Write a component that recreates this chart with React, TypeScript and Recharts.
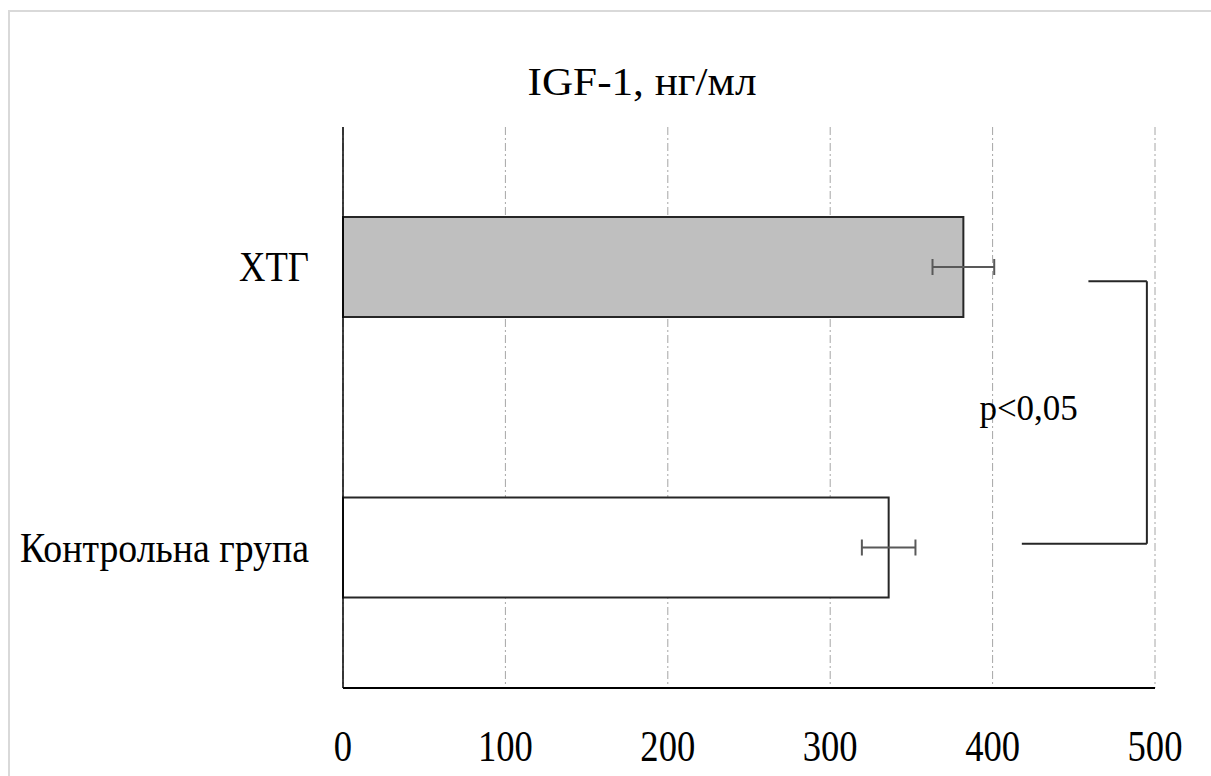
import React from 'react';
import { BarChart, Bar, XAxis, YAxis, CartesianGrid, ErrorBar, Cell, ReferenceLine } from 'recharts';

// IGF-1 levels, ng/ml: mean and error per group
const categories = ['ХТГ', 'Контрольна група'];
const means = [382, 336];
const errors = [19, 16.5];
const xTicks = [0, 100, 200, 300, 400, 500];

const FILLS = ['#bfbfbf', '#ffffff'];
const FONT = '"Liberation Serif", "Times New Roman", serif';

const data = categories.map((name, i) => ({ name, value: means[i], err: errors[i] }));

// narrow, tall serif labels
const Y_LABEL_WIDTH: Record<string, number> = { 'ХТГ': 70, 'Контрольна група': 289 };

const XTick = (props: any) => {
  const { x, y, payload } = props;
  const label = String(payload.value);
  return (
    <text x={x} y={y + 73} textAnchor="middle" fontFamily={FONT} fontSize={44} fill="#000"
      textLength={label.length * 18.3} lengthAdjust="spacingAndGlyphs">
      {label}
    </text>
  );
};

const YTick = (props: any) => {
  const { x, y, payload } = props;
  const label = String(payload.value);
  return (
    <text x={x} y={y + 14} textAnchor="end" fontFamily={FONT} fontSize={42} fill="#000"
      textLength={Y_LABEL_WIDTH[label]} lengthAdjust="spacingAndGlyphs">
      {label}
    </text>
  );
};

// bracket pieces, nudged off the category centres
const shifted = (dy1: number, dy2: number) => (p: any) => (
  <line x1={p.x1} y1={p.y1 + dy1} x2={p.x2} y2={p.y2 + dy2} stroke="#262626" strokeWidth={2} />
);

export default function App() {
  return (
    <div style={{ position: 'fixed', left: 0, top: 0, width: 1211, height: 776, overflow: 'hidden', background: '#fff' }}>
      <div style={{ position: 'absolute', left: 8, top: 10, width: 1230, height: 800,
        borderLeft: '2px solid #d9d9d9', borderTop: '2px solid #d9d9d9' }} />
      <svg width={1211} height={776} style={{ position: 'absolute', left: 0, top: 0 }}>
        <text x={642} y={95} textAnchor="middle" fontFamily={FONT} fontSize={40} fill="#000"
          textLength={229} lengthAdjust="spacingAndGlyphs">
          IGF-1, нг/мл
        </text>
      </svg>
      <div style={{ position: 'absolute', left: 0, top: 0 }}>
        <BarChart width={1211} height={776} data={data} layout="vertical"
          margin={{ top: 127, right: 56, bottom: 28, left: 0 }}>
          <CartesianGrid horizontal={false} stroke="#a6a6a6" strokeDasharray="8 3 2 3" />
          <XAxis type="number" domain={[0, 500]} ticks={xTicks} height={60} tickSize={0} tickMargin={0}
            axisLine={{ stroke: '#000', strokeWidth: 2 }} tickLine={false} tick={<XTick />} />
          <YAxis type="category" dataKey="name" width={343} tickSize={0} tickMargin={34}
            axisLine={{ stroke: '#000', strokeWidth: 1.5 }} tickLine={false} tick={<YTick />} />
          <Bar dataKey="value" barSize={100} stroke="#262626" strokeWidth={2} isAnimationActive={false}>
            {data.map((d, i) => <Cell key={d.name} fill={FILLS[i]} />)}
            <ErrorBar dataKey="err" direction="x" width={8} stroke="#595959" strokeWidth={2} isAnimationActive={false} />
          </Bar>
          <ReferenceLine segment={[{ x: 459, y: categories[0] }, { x: 495, y: categories[0] }]}
            shape={shifted(14, 14)} ifOverflow="visible" />
          <ReferenceLine segment={[{ x: 418, y: categories[1] }, { x: 495, y: categories[1] }]}
            shape={shifted(-4, -4)} ifOverflow="visible" />
          <ReferenceLine segment={[{ x: 495, y: categories[0] }, { x: 495, y: categories[1] }]}
            shape={shifted(14, -4)} ifOverflow="visible"
            label={{ value: 'p<0,05', position: 'left', offset: 69, fill: '#000', fontSize: 35, fontFamily: FONT }} />
        </BarChart>
      </div>
    </div>
  );
}
